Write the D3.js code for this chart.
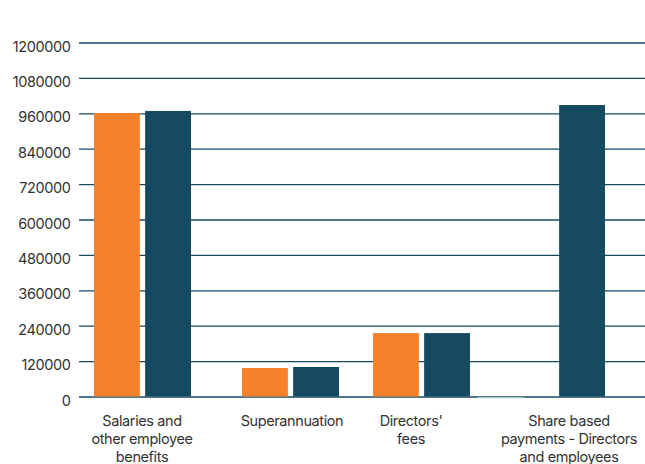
<!DOCTYPE html>
<html>
<head>
<meta charset="utf-8">
<script src="https://cdn.jsdelivr.net/npm/d3@7"></script>
<style>
  html, body { margin: 0; padding: 0; background: #fff; }
  svg { display: block; }
  text { font-family: Inter, "Open Sans", sans-serif; fill: #333; }
</style>
</head>
<body>
<svg id="chart" width="645" height="464"></svg>
<script>
// Remuneration components, two reporting years
const categories = [
  ["Salaries and", "other employee", "benefits"],
  ["Superannuation"],
  ["Directors'", "fees"],
  ["Share based", "payments - Directors", "and employees"]
];
const categoryKeys = ["salaries", "super", "directors", "share"];
const seriesA = [961000, 96600, 215000, 0];      // orange
const seriesB = [968000, 100000, 215000, 988000]; // teal
const yTicks = [0, 120000, 240000, 360000, 480000, 600000, 720000, 840000, 960000, 1080000, 1200000];

const colors = { a: "#f5822b", b: "#154a60", grid: "#164a61", zeroMark: "#b9cbd2" };

const svg = d3.select("#chart");
const W = 645, H = 464;
const margin = { left: 79, right: 0, top: 43, bottom: 67 };

const y = d3.scaleLinear().domain([0, 1200000]).range([396.5, 42.5]);

// group centres for each category and the two bars inside a group
const xGroup = d3.scaleOrdinal().domain(categoryKeys).range([142.5, 290.5, 421.5, 556.5]);
const xLabel = d3.scaleOrdinal().domain(categoryKeys).range([142, 292, 411, 569]);
const xInner = d3.scaleBand().domain(["a", "b"]).range([-48.5, 48.5]).paddingInner(0.103);

// gridlines
const axis = d3.axisLeft(y).tickValues(yTicks).tickSize(-(W - margin.left)).tickFormat(d3.format("d"));
const gAxis = svg.append("g").attr("transform", `translate(${margin.left},0)`).call(axis);
gAxis.select(".domain").remove();
gAxis.selectAll(".tick line").attr("stroke", colors.grid).attr("stroke-width", 1.3);
gAxis.selectAll(".tick text")
  .attr("x", -8.5).attr("dy", null).attr("y", 8.5)
  .attr("font-size", 14.5).attr("letter-spacing", "-0.4px")
  .style("fill", "#333")
  .attr("font-family", "Inter, sans-serif");

const rows = categoryKeys.map((k, i) => ({ key: k, a: seriesA[i], b: seriesB[i] }));

const groups = svg.append("g").selectAll("g").data(rows).join("g")
  .attr("transform", d => `translate(${xGroup(d.key)},0)`);

groups.selectAll("rect.bar").data(d => ["a", "b"].map(s => ({ s, v: d[s] })).filter(e => e.v > 0))
  .join("rect").attr("class", "bar")
  .attr("x", e => xInner(e.s))
  .attr("width", xInner.bandwidth())
  .attr("y", e => y(e.v))
  .attr("height", e => y(0) - y(e.v))
  .attr("fill", e => colors[e.s]);

// zero-valued entries shown as a faint marker under the baseline
groups.selectAll("rect.zero").data(d => ["a", "b"].map(s => ({ s, v: d[s] })).filter(e => e.v === 0))
  .join("rect").attr("class", "zero")
  .attr("x", e => xInner(e.s) - 30)
  .attr("width", xInner.bandwidth())
  .attr("y", y(0) + 0.6)
  .attr("height", 1.2)
  .attr("fill", colors.zeroMark);

// category labels
const labels = svg.append("g").selectAll("text").data(rows).join("text")
  .attr("text-anchor", "middle")
  .attr("font-size", 14.5)
  .attr("letter-spacing", "-0.4px")
  .attr("x", d => xLabel(d.key))
  .attr("y", 426);
labels.selectAll("tspan").data((d, i) => categories[i]).join("tspan")
  .attr("x", function () { return d3.select(this.parentNode).attr("x"); })
  .attr("dy", (t, j) => j === 0 ? 0 : 17.8)
  .text(t => t);
</script>
</body>
</html>
